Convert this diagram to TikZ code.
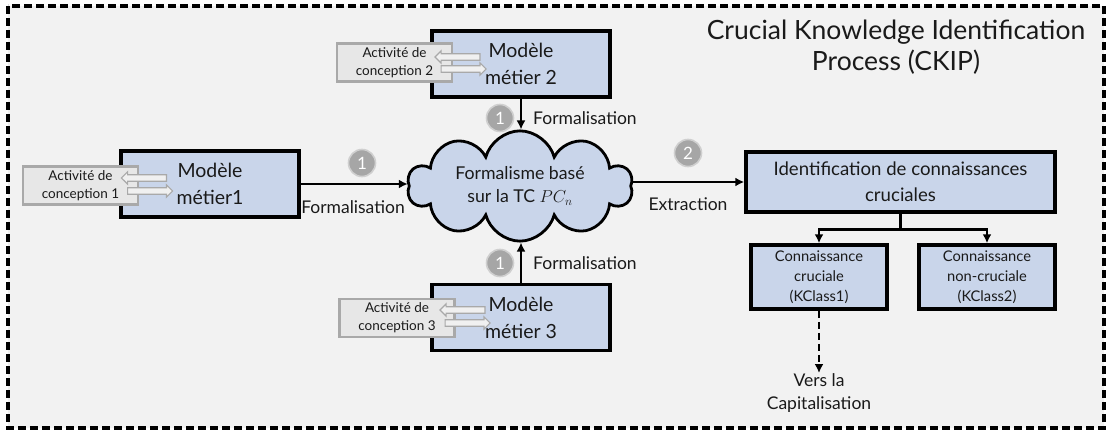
\documentclass[tikz,border=0pt]{standalone}
\usepackage{fontspec}
\setmainfont{Lato}
\usetikzlibrary{shapes.symbols,shapes.arrows,arrows.meta}
\definecolor{bg}{HTML}{F2F2F2}
\definecolor{boxblue}{HTML}{C9D5EA}
\definecolor{actfill}{HTML}{E7E7E7}
\definecolor{actdraw}{HTML}{A9A9A9}
\definecolor{arrfill}{HTML}{F0F0F0}
\definecolor{circfill}{HTML}{A6A6A6}
\definecolor{circdraw}{HTML}{CFCFCF}
\definecolor{ink}{HTML}{1A1A1A}
\begin{document}
\begin{tikzpicture}[x=1pt,y=-1pt,
  frame/.style={draw=black, line width=3.2pt, dash pattern=on 8pt off 4pt, fill=bg},
  model/.style={draw=black, line width=3.5pt, fill=boxblue, minimum width=178pt, minimum height=66pt, align=center, inner sep=0pt, text=ink, font=\fontsize{19.5}{27}\selectfont},
  act/.style={draw=actdraw, line width=2.2pt, fill=actfill, minimum width=115pt, minimum height=38pt, inner sep=0pt, align=center, text=ink, font=\fontsize{13.5}{18}\selectfont},
  harrow/.style={single arrow, draw=actdraw, fill=arrfill, line width=1.2pt, minimum height=45pt, inner sep=2.6pt, single arrow head extend=3pt},
  conn/.style={draw=black, line width=2.7pt, -{Latex[length=9pt,width=9pt]}},
  num/.style={circle, fill=circfill, draw=circdraw, line width=1.6pt, minimum size=27pt, inner sep=0pt, text=white, font=\fontsize{17}{18}\selectfont},
  lab/.style={text=ink, inner sep=0pt, font=\fontsize{17.5}{23}\selectfont, align=center},
  kbox/.style={draw=black, line width=3.5pt, fill=boxblue, minimum width=136pt, minimum height=64pt, align=center, inner sep=0pt, text=ink, font=\fontsize{14.7}{20}\selectfont}
]
\useasboundingbox (0,0) rectangle (1109,433);
\fill[white] (0,0) rectangle (1109,433);
\draw[frame] (8,6) rectangle (1104,428);

% title
\node[text=ink, align=center, font=\fontsize{26.5}{31}\selectfont] (title) at (896,47.5) {Crucial Knowledge Identification\\Process (CKIP)};

% model 1
\node[model] (m1) at (210,184) {Modèle\\métier1};
\node[act] (a1) at (80.5,185.5) {Activité de\\conception 1};
\node[harrow, shape border rotate=180] (a1l) at (145.5,178) {};
\node[harrow] (a1r) at (148.5,191) {};

% model 2
\node[model] (m2) at (521,64) {Modèle\\métier 2};
\node[act] (a2) at (394.5,62.5) {Activité de\\conception 2};
\node[harrow, shape border rotate=180] (a2l) at (459,57) {};
\node[harrow] (a2r) at (462,69) {};

% model 3
\node[model] (m3) at (521,317.5) {Modèle\\métier 3};
\node[act] (a3) at (397,318) {Activité de\\conception 3};
\node[harrow, shape border rotate=180] (a3l) at (464,310) {};
\node[harrow] (a3r) at (466,323) {};

% cloud
\node[cloud, cloud puffs=10, aspect=2.6, draw=black, line width=2.8pt, fill=boxblue, minimum width=225pt, minimum height=86pt, inner sep=0pt, align=center, text=ink, font=\fontsize{17.7}{23}\selectfont] (pc) at (520,186) {Formalisme basé\\sur la TC $PC_n$};

% identification
\node[model, minimum width=309pt, minimum height=60pt, font=\fontsize{18.6}{26}\selectfont] (id) at (900.5,182) {Identification de connaissances\\cruciales};
\node[kbox] (k1) at (819,277) {Connaissance\\cruciale\\(KClass1)};
\node[kbox] (k2) at (987,277) {Connaissance\\non-cruciale\\(KClass2)};
\node[lab, anchor=north] (cap) at (819,373) {Vers la\\Capitalisation};

% connectors
\draw[conn] (m1.east) -- (m1.east -| pc.west);
\draw[conn] (m2.south) -- (m2.south |- pc.north);
\draw[conn] (m3.north) -- (m3.north |- pc.south);
\draw[conn] (id.west -| pc.east) -- (id.west);
\draw[conn] (id.south) -- ++(0,16) -| (k1.north);
\draw[conn] (id.south) -- ++(0,16) -| (k2.north);
\draw[conn, dash pattern=on 7pt off 4pt] (k1.south) -- (cap.north);

% numbers and labels
\node[num] (n1) at (362,163) {1};
\node[num] (n2) at (500,118) {1};
\node[num] (n3) at (500,263) {1};
\node[num] (n4) at (688,153) {2};
\node[lab] (f1) at (353,207) {Formalisation};
\node[lab, anchor=west] (f2) at (533,118) {Formalisation};
\node[lab, anchor=west] (f3) at (533,263) {Formalisation};
\node[lab] (ex) at (688,204) {Extraction};
\end{tikzpicture}
\end{document}
